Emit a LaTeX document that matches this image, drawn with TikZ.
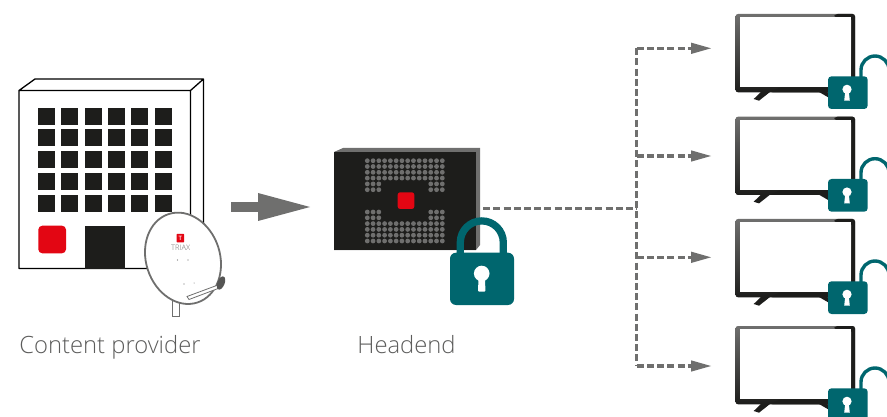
\documentclass[tikz,border=0pt]{standalone}
\usepackage{fontspec}
\setmainfont{Open Sans Light}
\usetikzlibrary{arrows.meta}

\definecolor{lockteal}{HTML}{00666E}
\definecolor{ink}{HTML}{1D1D1B}
\definecolor{triaxred}{HTML}{E30613}
\definecolor{midgrey}{HTML}{6F6F6E}
\definecolor{labelgrey}{HTML}{5C5C5B}

\begin{document}
\begin{tikzpicture}[x=1pt,y=-1pt,
    caption/.style={text=labelgrey,font=\fontsize{23.8}{26}\selectfont,inner sep=0pt},
    feedline/.style={draw=midgrey,line width=3.2pt,dash pattern=on 7pt off 3.2pt},
    feedtip/.style={fill=midgrey,draw=none},
    marker/.style={inner sep=0pt,minimum size=1pt}]
\useasboundingbox (0,0) rectangle (887,417);

% building
\draw[fill=white,line width=1.3pt,line join=round]
      (19,90.5) -- (35,79) -- (203.5,79) -- (203.5,255) -- (190.5,268.5) -- (19,268.5) -- cycle
      (19,90.5) -- (190.5,90.5) -- (190.5,268.5) (190.5,90.5) -- (203.5,79);
\foreach \wx in {38,61,85,108,131,155}
  \foreach \wy in {108,129,151,173,195}
    \fill[ink] (\wx,\wy) rectangle ++(17,17);
\fill[triaxred,rounded corners=4pt] (38.3,225.7) rectangle (66,253.3);
\fill[ink] (85,226) rectangle (125,268.5);

% dish
\draw[fill=white,draw=midgrey,line width=.7pt] (172.3,298) rectangle (179,316);
\draw[fill=white,draw=midgrey,line width=1.8pt,rotate around={18:(183,258.3)}]
      (183,258.3) ellipse (37 and 46.5);
\fill[triaxred,rounded corners=.5pt] (176.7,234) rectangle (184,242.3);
\node[inner sep=0pt,text=white,font=\fontsize{6}{6}\selectfont\bfseries] (logo) at (180.4,238.2) {T};
\node[inner sep=0pt,text=midgrey,font=\fontsize{7.6}{8}\selectfont] (brand) at (180.7,247.8) {TRIAX};
\fill[midgrey] (177.5,260) circle (.6) (188,260) circle (.6) (184,284) circle (.6) (194,283) circle (.5);
\draw[draw=midgrey,fill=white,line width=.8pt] (187,296.5) -- (218,285) -- (219.5,288) -- (189,299.5) -- cycle;
\fill[ink!75!white,rotate around={-22:(221,283)}] (221,283) ellipse (3.6 and 7);

% arrow
\fill[midgrey] (231,202.5) rectangle (262,212);
\fill[midgrey] (258,193) -- (310,207) -- (258,221) -- cycle;

% headend
\fill[midgrey] (334,152) -- (343,148) -- (480,148) -- (480,245) -- (476,250) -- (334,250) -- cycle;
\fill[ink] (334,152) rectangle (476,250);
\foreach \dr in {0,...,3} \foreach \dc in {0,...,13}
  \fill[midgrey] (367.3+5.77*\dc,160.7+5.8*\dr) circle (2.4);
\foreach \dr in {4,5} \foreach \dc in {0,1,2,11,12,13}
  \fill[midgrey] (367.3+5.77*\dc,160.7+5.8*\dr) circle (2.4);
\foreach \dr in {0,1} \foreach \dc in {0,1,2,11,12,13}
  \fill[midgrey] (367.3+5.77*\dc,212+5.8*\dr) circle (2.4);
\foreach \dr in {2,...,5} \foreach \dc in {0,...,13}
  \fill[midgrey] (367.3+5.77*\dc,212+5.8*\dr) circle (2.4);
\fill[triaxred,rounded corners=2.5pt] (397.7,192.3) rectangle (414.3,209);
\node[marker] (headend) at (482.5,208.7) {};

% closed lock
\draw[lockteal,line width=7.3pt] (460.3,258) -- (460.3,242.4) arc[start angle=180,end angle=360,radius=21.5] -- (503.3,258);
\fill[lockteal,rounded corners=6pt] (450,252.7) rectangle (514,305);
\fill[white] (481.7,273.5) circle (7.8);
\fill[white,rounded corners=1pt] (478.7,273) -- (484.7,273) -- (485.5,291.7) -- (478,291.7) -- cycle;

% screens with open locks
\foreach \tvname/\ty/\ay in {tva/14/48.3,tvb/116.7/156,tvc/219/257.3,tvd/326/366}{
  \begin{scope}[shift={(0,\ty)}]
    \fill[ink] (761,78) -- (770,78) -- (759,86.7) -- (753.7,85) -- cycle
               (819,78) -- (827,78) -- (840,85) -- (834,86.7) -- cycle;
    \shade[top color=midgrey,bottom color=ink,rounded corners=2.5pt] (735.5,0) rectangle (855,78.3);
    \fill[ink,rounded corners=2.5pt] (835,0) -- (855,0) -- (855,78.3) -- (770,78.3) -- (780,73.3) -- (851.3,73.3) -- (851.3,3.3) -- (834,3.3) -- cycle;
    \fill[white] (739.7,3.3) rectangle (851.3,73.3);
    \draw[lockteal,line width=3.4pt] (861,66) -- (861,56) arc[start angle=180,end angle=360,radius=14] -- (889,66);
    \fill[lockteal,rounded corners=3.5pt] (828,62.3) rectangle (867.7,95);
    \fill[white] (847,75.3) circle (4.6);
    \fill[white] (845.5,75) -- (848.5,75) -- (849.8,86.7) -- (844.2,86.7) -- cycle;
  \end{scope}
  \node[marker] (\tvname) at (711,\ay) {};
}

% connectors
\coordinate (junction) at (636.7,208.7);
\draw[feedline] (headend) -- (junction);
\draw[feedline] (junction |- tva) -- (junction |- tvd);
\foreach \tvname in {tva,tvb,tvc,tvd}{
  \draw[feedline] (junction |- \tvname) -- ([xshift=-18pt]\tvname.center);
  \fill[feedtip] ([xshift=-20pt,yshift=-5.7pt]\tvname.center) -- (\tvname.center) -- ([xshift=-20pt,yshift=5.7pt]\tvname.center) -- cycle;
}

% labels
\node[caption,anchor=base] (providerlabel) at (110,353) {Content provider};
\node[caption,anchor=base] (headendlabel) at (406.5,353) {Headend};
\end{tikzpicture}
\end{document}
